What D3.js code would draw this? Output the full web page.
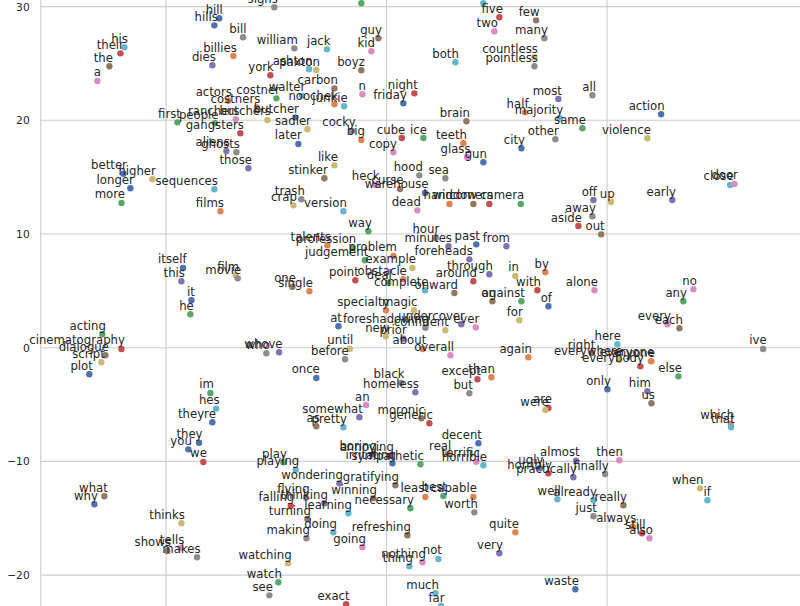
<!DOCTYPE html>
<html>
<head>
<meta charset="utf-8">
<script src="https://cdn.jsdelivr.net/npm/d3@7"></script>
<style>
  body { margin: 0; background: #fff; }
</style>
</head>
<body>
<div id="chart"></div>
<script>
// word embedding projection, one point per word
// (two points near the top have their labels above the visible area; left blank)
var words = ["his","their","the","a","signs","","","hill","hills","bill",
  "william","jack","guy","kid","billies","dies","york","ashton","paxton","boyz",
  "carbon","n","actors","costner","walter","noochek","junkie","costners","butcher","ranchers",
  "butchers","first","people","gangsters","sadler","cocky","big","later","aliens","ghosts",
  "those","like","stinker","heck","sequences","trash","crap","version","films","better",
  "higher","longer","more","five","few","two","many","both","countless","pointless",
  "night","friday","most","all","half","majority","same","other","brain","ice",
  "cube","teeth","city","glass","gun","hood","sea","copy","curse","warehouse",
  "hand","window","corners","camera","dead","off","up","early","action","violence",
  "close","door","itself","this","it","he","acting","cinematography","dialogue","script",
  "plot","way","talents","profession","judgement","problem","example","film","movie","one",
  "single","point","obstacle","deal","complete","hour","minutes","past","from","foreheads",
  "through","around","in","by","with","alone","onward","against","on","of",
  "for","ever","undercover","confident","foreshadowing","specialty","magic","at","new","prior",
  "about","overall","until","before","who","whove","once","im","hes","theyre",
  "they","you","we","what","why","thinks","tells","shows","makes","black",
  "homeless","an","somewhat","as","pretty","moronic","generic","except","than","but",
  "again","are","were","aside","away","out","no","any","every","each",
  "ive","here","everywhere","everybody","everyone","anyone","right","else","only","him",
  "us","which","that","then","almost","finally","ugly","horribly","practically","well",
  "already","just","really","when","if","always","still","also","decent","terrific",
  "real","horrible","sympathetic","least","best","capable","worth","necessary","quite","very",
  "not","nothing","thing","much","far","waste","refreshing","gratifying","wondering","play",
  "playing","flying","falling","turning","thinking","learning","winning","making","doing","going",
  "watching","watch","see","exact","boring","annoying","irritating"];

var xs = [-23.78,-24.14,-25.14,-26.23,-10.18,-2.29,8.78,-15.17,-15.62,-13.02,
  -8.36,-5.40,-0.74,-1.38,-13.90,-15.80,-10.54,-7.03,-6.37,-2.29,
  -4.73,-2.19,-14.35,-9.99,-7.69,-4.73,-3.85,-11.77,-8.27,-13.68,
  -10.81,-18.97,-15.56,-13.26,-7.18,-3.13,-2.29,-8.00,-14.53,-13.62,
  -12.53,-4.73,-5.64,-0.95,-15.62,-7.73,-8.45,-3.92,-15.07,-23.87,
  -21.24,-23.24,-24.04,10.23,13.56,9.78,14.31,6.24,13.41,13.41,
  2.52,1.52,15.58,18.67,12.56,15.71,17.76,15.31,7.24,3.34,
  1.38,6.97,12.23,7.30,8.78,2.97,5.33,0.62,1.22,3.49,
  5.70,7.87,9.32,12.17,2.79,18.76,20.36,25.92,24.90,23.65,
  31.16,31.55,-18.46,-18.61,-17.70,-17.80,-25.78,-24.05,-25.50,-25.87,
  -26.96,-1.65,-5.37,-3.07,-1.98,0.62,2.34,-13.68,-13.50,-8.54,
  -7.00,-2.83,1.52,0.16,3.49,4.46,5.61,8.14,10.87,7.51,
  9.32,7.87,11.68,14.40,13.68,18.85,6.15,12.23,9.60,14.68,
  12.04,8.09,6.78,5.33,3.52,-0.05,2.49,-4.37,-0.07,1.52,
  3.28,5.79,-3.34,-3.76,-10.90,-9.75,-6.37,-15.98,-15.46,-15.80,
  -17.01,-17.98,-16.62,-25.60,-26.50,-18.61,-18.67,-19.88,-17.19,1.32,
  2.61,-1.86,-2.47,-6.37,-3.92,3.16,3.88,8.24,9.51,7.51,
  12.86,14.68,14.40,17.40,18.67,19.46,27.83,26.92,25.47,26.56,
  34.15,20.93,21.11,23.02,23.96,24.02,18.61,26.47,20.03,23.65,
  24.02,31.22,31.25,21.11,17.19,19.82,13.90,14.68,16.94,15.49,
  18.76,18.76,21.48,28.43,29.10,22.33,23.17,23.84,8.33,8.14,
  5.55,8.78,3.07,3.52,5.15,7.87,7.96,2.16,11.68,10.23,
  4.70,3.25,2.07,4.43,4.94,17.12,1.89,0.80,-4.28,-9.36,
  -8.24,-7.30,-8.69,-7.18,-5.64,-3.46,-1.20,-7.27,-4.83,-2.19,
  -8.93,-9.81,-10.63,-3.67,-1.20,0.34,0.53];

var ys = [26.42,25.89,24.75,23.46,29.94,30.29,30.29,28.97,28.35,27.30,
  26.33,26.24,27.21,26.07,25.65,24.84,23.96,24.49,24.42,24.40,
  22.81,22.29,21.72,21.93,22.14,21.41,21.23,21.14,20.26,20.09,
  20.03,19.82,19.74,18.86,19.21,19.06,18.27,17.92,17.30,17.19,
  15.78,16.04,14.90,14.31,13.93,13.05,12.52,12.00,12.00,15.30,
  14.81,14.02,12.73,29.06,28.79,27.83,27.21,25.10,25.54,24.75,
  22.37,21.49,21.87,22.20,20.70,20.18,19.30,18.33,19.91,18.44,
  18.44,17.98,17.54,16.77,16.31,15.16,14.90,17.19,13.96,13.61,
  12.64,12.64,12.64,12.64,12.08,12.99,12.81,12.99,20.53,18.42,
  14.31,14.40,7.01,5.84,4.17,2.94,1.18,-0.11,-0.67,-1.28,
  -2.34,10.24,9.01,8.80,7.69,8.07,7.01,6.37,6.10,5.36,
  4.96,5.93,6.02,5.69,5.05,9.65,8.92,9.09,8.92,7.77,
  6.46,5.84,6.31,6.63,5.05,5.05,4.81,4.08,4.08,3.64,
  2.41,1.79,2.06,1.53,1.76,3.29,3.29,1.88,1.00,0.79,
  -0.11,-0.67,-0.09,-1.02,-0.49,-0.40,-2.66,-3.98,-5.36,-6.56,
  -8.36,-8.94,-10.05,-13.07,-13.77,-15.44,-17.62,-17.88,-18.43,-3.10,
  -3.92,-5.04,-6.12,-6.91,-7.00,-6.21,-6.65,-2.78,-2.60,-4.01,
  -0.84,-5.30,-5.48,10.70,11.56,9.97,5.14,4.08,2.06,1.71,
  -0.11,0.30,-1.08,-1.64,-1.16,-1.20,-0.47,-2.52,-3.66,-3.83,
  -4.89,-6.71,-7.00,-9.90,-9.94,-11.11,-10.61,-11.05,-11.40,-13.33,
  -13.42,-14.83,-13.86,-12.37,-13.42,-15.74,-16.32,-16.76,-8.41,-10.03,
  -9.35,-10.34,-10.25,-13.13,-13.04,-13.13,-14.48,-14.12,-16.24,-18.08,
  -18.58,-18.87,-19.23,-21.60,-22.72,-21.25,-16.50,-12.10,-11.93,-10.08,
  -10.73,-13.19,-13.92,-15.07,-13.69,-14.56,-13.25,-16.76,-16.24,-17.55,
  -18.96,-20.63,-21.78,-22.57,-9.35,-9.50,-10.17];

// colour index of each point (matplotlib colour cycle position)
var groups = [9,3,5,6,7,2,9,0,0,7,
  7,9,5,6,1,4,3,9,8,5,
  5,6,1,2,9,1,9,1,0,6,
  8,2,2,3,8,7,1,0,4,7,
  4,8,5,6,9,7,8,9,1,0,
  8,0,2,3,5,6,7,9,8,7,
  3,0,4,7,1,9,2,7,5,2,
  3,1,0,6,0,7,7,6,5,0,
  1,5,3,2,6,4,8,4,0,8,
  9,6,0,4,0,2,2,3,5,8,
  0,2,1,2,2,1,8,8,7,5,
  1,3,1,2,9,7,4,0,4,4,
  4,3,8,1,3,6,5,2,5,0,
  8,6,4,8,7,1,8,0,8,4,
  1,6,8,7,7,4,0,2,9,0,
  0,0,3,5,0,8,6,5,7,7,
  4,6,4,5,9,5,3,3,1,7,
  1,3,8,3,7,5,6,2,6,5,
  7,9,8,3,8,1,5,2,0,4,
  5,1,9,6,4,7,4,3,4,9,
  9,7,5,8,9,1,3,6,0,6,
  1,9,2,1,2,1,7,2,1,4,
  9,6,9,9,9,0,5,5,4,2,
  9,7,3,5,5,9,5,7,9,6,
  8,2,7,3,4,3,0];

var yTicks = [-20, -10, 0, 10, 20, 30];
var xTicks = [-20, 0, 20];

var palette = ["#4c72b0", "#dd8452", "#55a868", "#c44e52", "#8172b3",
               "#937860", "#da8bc3", "#8c8c8c", "#ccb974", "#64b5cd"];

var data = words.map(function (w, i) {
    return {word: w, x: xs[i], y: ys[i], g: groups[i]};
});

var width = 800;
var height = 606;

var svg = d3.select("#chart").append("svg")
    .attr("width", width)
    .attr("height", height)
    .style("display", "block");

// axes area runs past the right and bottom of the picture
var x = d3.scaleLinear()
    .domain([-31.37, 40])
    .range([40.7, 827.6]);

var y = d3.scaleLinear()
    .domain([-25, 32])
    .range([631.95, -16.14]);

// grid
svg.append("g")
    .selectAll("line.hgrid")
    .data(yTicks)
    .enter().append("line")
    .attr("class", "hgrid")
    .attr("x1", x(-31.37))
    .attr("x2", width)
    .attr("y1", function (d) { return y(d); })
    .attr("y2", function (d) { return y(d); })
    .attr("stroke", "#cccccc")
    .attr("stroke-width", 1.1);

svg.append("g")
    .selectAll("line.vgrid")
    .data(xTicks)
    .enter().append("line")
    .attr("class", "vgrid")
    .attr("x1", function (d) { return x(d); })
    .attr("x2", function (d) { return x(d); })
    .attr("y1", 0)
    .attr("y2", height)
    .attr("stroke", "#cccccc")
    .attr("stroke-width", 1.1);

// left spine
svg.append("line")
    .attr("x1", x(-31.37))
    .attr("x2", x(-31.37))
    .attr("y1", 0)
    .attr("y2", height)
    .attr("stroke", "#cccccc")
    .attr("stroke-width", 1.1);

//y-axis labels
var yAxisCall = d3.axisLeft(y)
    .tickValues(yTicks)
    .tickSize(0)
    .tickPadding(11);

var yAxis = svg.append("g")
    .attr("transform", "translate(" + x(-31.37) + ",0)")
    .call(yAxisCall);
yAxis.select(".domain").remove();
yAxis.selectAll("text")
    .attr("fill", "#262626")
    .style("font-family", "'DejaVu Sans', sans-serif")
    .style("font-size", "10.7px");

// points
svg.append("g")
    .selectAll("circle")
    .data(data)
    .enter().append("circle")
    .attr("cx", function (d) { return x(d.x); })
    .attr("cy", function (d) { return y(d.y); })
    .attr("r", 3.2)
    .attr("fill", function (d) { return palette[d.g]; });

// word labels, right aligned just above each point
svg.append("g")
    .selectAll("text")
    .data(data.filter(function (d) { return d.word !== ""; }))
    .enter().append("text")
    .attr("x", function (d) { return x(d.x) + 3.5; })
    .attr("y", function (d) { return y(d.y) - 4.5; })
    .attr("text-anchor", "end")
    .attr("fill", "#262626")
    .style("font-family", "'DejaVu Sans', sans-serif")
    .style("font-size", "11.7px")
    .text(function (d) { return d.word; });
</script>
</body>
</html>
